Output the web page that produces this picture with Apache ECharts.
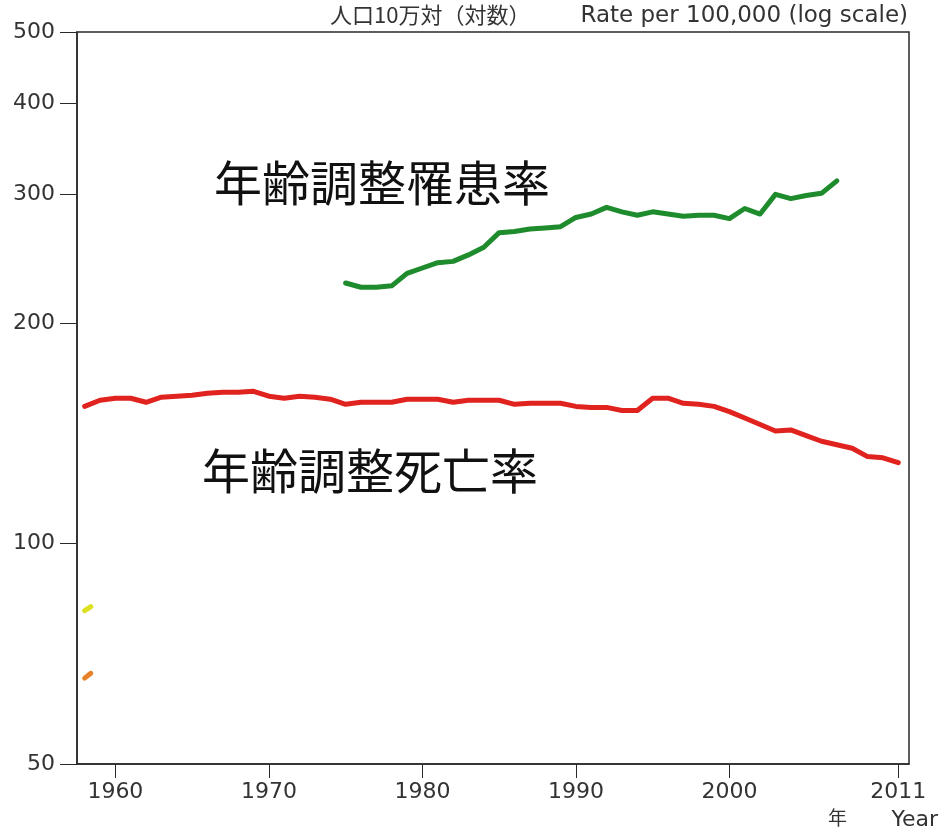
<!DOCTYPE html>
<html>
<head>
<meta charset="utf-8">
<script src="https://cdn.jsdelivr.net/npm/echarts@6/dist/echarts.min.js"></script>
<style>html,body{margin:0;padding:0;background:#fff;}#c{width:941px;height:832px;}</style>
</head>
<body>
<div id="c"></div>
<script>
// Data
const mortYears = [1958,1959,1960,1961,1962,1963,1964,1965,1966,1967,1968,1969,1970,1971,1972,1973,1974,1975,1976,1977,1978,1979,1980,1981,1982,1983,1984,1985,1986,1987,1988,1989,1990,1991,1992,1993,1994,1995,1996,1997,1998,1999,2000,2001,2002,2003,2004,2005,2006,2007,2008,2009,2010,2011];
const mortRate = [154,157,158,158,156,158.5,159,159.5,160.5,161,161,161.5,159,158,159,158.5,157.5,155,156,156,156,157.5,157.5,157.5,156,157,157,157,155,155.5,155.5,155.5,154,153.5,153.5,152,152,158,158,155.5,155,154,151.5,148.5,145.5,142.5,143,140.5,138,136.5,135,131.5,131,129];
const incYears = [1975,1976,1977,1978,1979,1980,1981,1982,1983,1984,1985,1986,1987,1988,1989,1990,1991,1992,1993,1994,1995,1996,1997,1998,1999,2000,2001,2002,2003,2004,2005,2006,2007];
const incRate = [227,224,224,225,234,238,242,243,248,254,266,267,269,270,271,279,282,288,284,281,284,282,280,281,281,278,287,282,300,296,299,301,313];
const stubYellowYears = [1958,1958.4];
const stubYellow = [81,82];
const stubOrangeYears = [1958,1958.4];
const stubOrange = [65.5,66.5];
const xTicks = [1960,1970,1980,1990,2000,2011];
const yTicks = [50,100,200,300,400,500];
const labelInc = '年齢調整罹患率';
const labelMort = '年齢調整死亡率';
const yTitleJa = '人口10万対（対数）';
const yTitleEn = 'Rate per 100,000 (log scale)';
const xTitleJa = '年';
const xTitleEn = 'Year';

const zip = (a,b) => a.map((v,i)=>[v,b[i]]);
const chart = echarts.init(document.getElementById('c'));
const axisCol = '#2a2a2a';
const lblFont = 'DejaVu Sans';
chart.setOption({
  backgroundColor:'#fff',
  animation:false,
  grid:{left:77,right:32,top:32,bottom:68,show:true,borderColor:axisCol,borderWidth:1.5,backgroundColor:'transparent'},
  xAxis:{
    type:'value',min:1957.5,max:2011.7,
    axisLine:{show:true,lineStyle:{color:axisCol,width:1.5}},
    axisTick:{show:true,length:14,lineStyle:{color:axisCol,width:1},customValues:xTicks},
    axisLabel:{customValues:xTicks,formatter:v=>String(v),color:'#333',fontSize:22,fontFamily:lblFont,margin:17},
    splitLine:{show:false}
  },
  yAxis:{
    type:'log',logBase:10,min:50,max:500,
    axisLine:{show:true,lineStyle:{color:axisCol,width:1.5}},
    axisTick:{show:true,length:17,lineStyle:{color:axisCol,width:1},customValues:yTicks},
    axisLabel:{customValues:yTicks,formatter:v=>String(Math.round(v)),color:'#333',fontSize:22,fontFamily:lblFont,margin:22},
    splitLine:{show:false}
  },
  series:[
    {type:'line',data:zip(mortYears,mortRate),showSymbol:false,smooth:false,lineStyle:{color:'#e0231f',width:5,cap:'round',join:'round'},z:3},
    {type:'line',data:zip(incYears,incRate),showSymbol:false,smooth:false,lineStyle:{color:'#1e8c2c',width:5,cap:'round',join:'round'},z:3},
    {type:'line',data:zip(stubYellowYears,stubYellow),showSymbol:false,lineStyle:{color:'#dde020',width:5,cap:'round'}},
    {type:'line',data:zip(stubOrangeYears,stubOrange),showSymbol:false,lineStyle:{color:'#e8822a',width:5,cap:'round'}}
  ],
  graphic:[
    {type:'text',left:214,top:159,style:{text:labelInc,font:'48px "Noto Sans CJK JP"',fill:'#111'}},
    {type:'text',left:202,top:447,style:{text:labelMort,font:'48px "Noto Sans CJK JP"',fill:'#111'}},
    {type:'text',left:330,top:4,style:{text:yTitleJa,font:'22px "Noto Sans CJK JP"',fill:'#333'}},
    {type:'text',right:33,top:5,style:{text:yTitleEn,font:'23px "DejaVu Sans"',fill:'#333'}},
    {type:'text',left:828,top:808,style:{text:xTitleJa,font:'19px "Noto Sans CJK JP"',fill:'#333'}},
    {type:'text',right:3,top:809,style:{text:xTitleEn,font:'22px "DejaVu Sans"',fill:'#333'}}
  ]
});
</script>
</body>
</html>
